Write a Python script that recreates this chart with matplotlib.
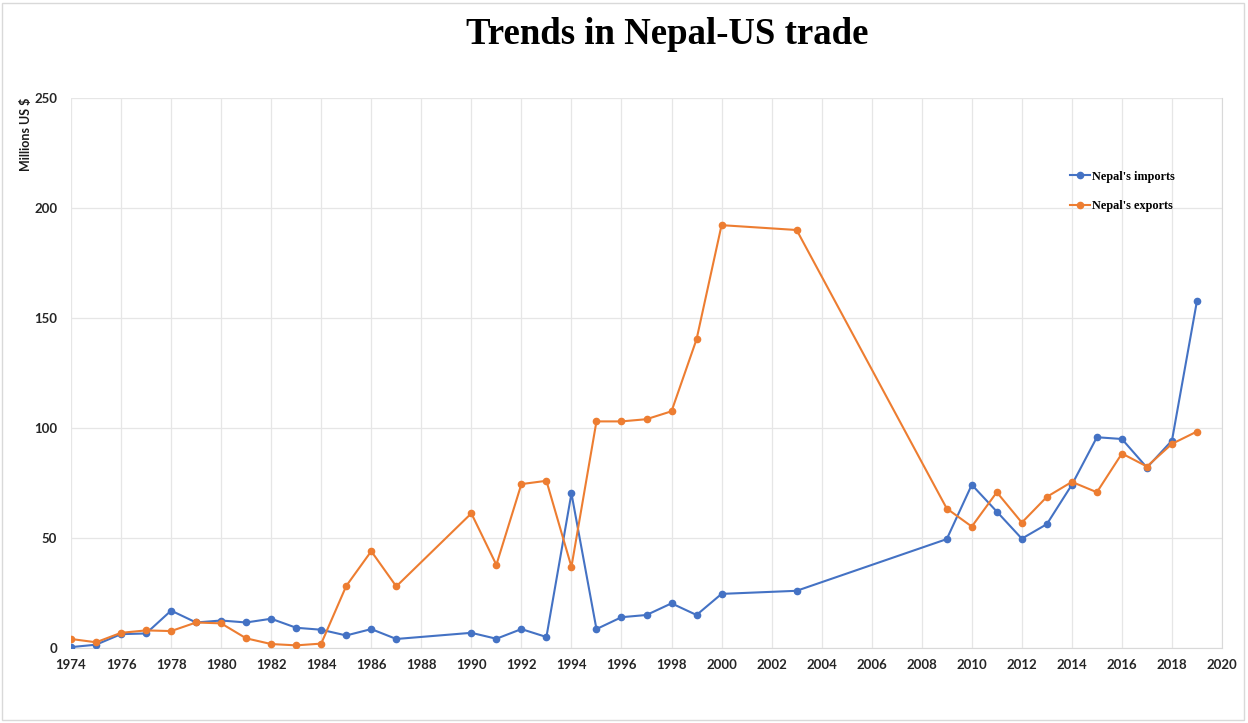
import matplotlib.pyplot as plt
from matplotlib.patches import Rectangle

# Nepal-US trade, millions of US dollars
years = [1974, 1975, 1976, 1977, 1978, 1979, 1980, 1981, 1982, 1983, 1984,
         1985, 1986, 1987, 1990, 1991, 1992, 1993, 1994, 1995, 1996, 1997,
         1998, 1999, 2000, 2003, 2009, 2010, 2011, 2012, 2013, 2014, 2015,
         2016, 2017, 2018, 2019]
imports = [0.4, 1.5, 6.3, 6.6, 17.0, 11.6, 12.5, 11.6, 13.3, 9.2, 8.3,
           5.7, 8.6, 4.1, 6.9, 4.2, 8.6, 5.0, 70.3, 8.6, 14.0, 15.0,
           20.3, 15.0, 24.6, 26.0, 49.5, 74.2, 62.0, 49.7, 56.3, 74.2, 95.8,
           95.0, 82.0, 94.3, 157.8]
exports = [4.1, 2.6, 6.9, 8.0, 7.7, 11.6, 11.2, 4.4, 1.8, 1.2, 2.0,
           28.2, 44.0, 28.0, 61.2, 37.8, 74.5, 76.0, 36.9, 103.0, 103.0, 104.0,
           107.6, 140.3, 192.2, 190.0, 63.4, 55.2, 70.8, 57.0, 68.7, 75.5, 70.8,
           88.4, 82.5, 92.8, 98.4]

xticks = list(range(1974, 2021, 2))
yticks = [0, 50, 100, 150, 200, 250]

blue = '#4472C4'
orange = '#ED7D31'

fig = plt.figure(figsize=(12.48, 7.23), dpi=100)
ax = fig.add_axes([71 / 1248, 1 - 648 / 723, 1151 / 1248, 550 / 723])

ax.plot(years, imports, color=blue, marker='o', markersize=4.5,
        linewidth=1.5, label="Nepal's imports", zorder=3)
ax.plot(years, exports, color=orange, marker='o', markersize=4.5,
        linewidth=1.5, label="Nepal's exports", zorder=3)

ax.set_xlim(1974, 2020)
ax.set_ylim(0, 250)
ax.set_xticks(xticks)
ax.set_yticks(yticks)
ax.grid(True, color='#e6e6e6', linewidth=0.9)
ax.set_axisbelow(True)

for side in ['top', 'left']:
    ax.spines[side].set_visible(False)
ax.spines['bottom'].set_color('#d9d9d9')
ax.spines['right'].set_color('#d9d9d9')
ax.tick_params(length=0)
ax.tick_params(axis='x', pad=8)
ax.tick_params(axis='y', pad=10)
for lab in ax.get_xticklabels() + ax.get_yticklabels():
    lab.set_fontfamily('Lato')
    lab.set_fontweight('bold')
    lab.set_fontsize(9.5)
    lab.set_color('#262626')

ax.set_ylabel('Millions US $', fontfamily='Lato', fontweight='bold',
              fontsize=9, color='#1a1a1a', loc='top')
ax.yaxis.set_label_coords(-0.034, 1.0)

ax.legend(loc='upper left', bbox_to_anchor=(0.868, 0.868), frameon=False,
          prop={'family': 'Liberation Serif', 'weight': 'bold', 'size': 8.8},
          labelspacing=1.45, handlelength=1.6, handletextpad=0.2,
          borderpad=0, borderaxespad=0)

fig.text(0.535, 1 - 44 / 723, 'Trends in Nepal-US trade', ha='center',
         va='baseline', fontfamily='Liberation Serif', fontweight='bold',
         fontsize=26.5)

# thin frame around the whole chart
fig.patches.append(Rectangle((2 / 1248, 3 / 723), 1242 / 1248, 717 / 723,
                             transform=fig.transFigure, fill=False,
                             edgecolor='#d9d9d9', linewidth=1))

plt.savefig('out.png', dpi=100)
